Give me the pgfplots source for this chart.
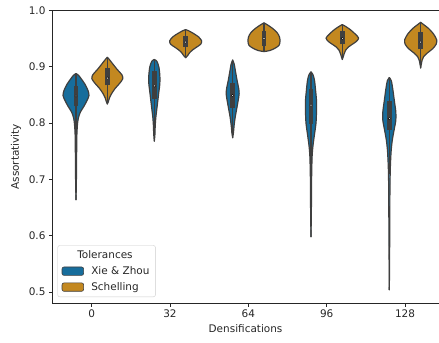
\documentclass[border=0pt]{standalone}
\usepackage{fontspec}
\setmainfont{DejaVu Sans}
\usepackage{pgfplots}
\usepackage{pgfplotstable}
\pgfplotsset{compat=1.18}
\definecolor{vblue}{HTML}{176D9C}
\definecolor{vorange}{HTML}{C38820}
\definecolor{edge}{HTML}{3F3F3F}
\newcommand{\pxu}{0.012766}
% violin outlines: y, half-width in pixels
\pgfplotstableread{
y w
0.888 0
0.885 2.5
0.878 5.5
0.869 9
0.858 12
0.849 13
0.840 11
0.830 8
0.820 4.5
0.810 2.5
0.800 1.6
0.780 0.9
0.740 0.6
0.700 0.4
0.664 0
}\vA
\pgfplotstableread{
y w
0.917 0
0.913 2
0.905 5.5
0.895 10
0.886 14.5
0.879 15.5
0.871 12.5
0.862 8
0.853 4.5
0.845 2.2
0.838 1
0.834 0
}\vB
\pgfplotstableread{
y w
0.913 0
0.910 2.5
0.900 4.5
0.885 5.5
0.870 5.5
0.855 4.5
0.840 3.5
0.825 2.5
0.810 1.5
0.795 0.9
0.780 0.6
0.768 0
}\vC
\pgfplotstableread{
y w
0.966 0
0.964 3
0.959 8
0.953 13
0.946 16
0.940 15
0.935 11
0.930 7
0.925 4
0.920 2
0.916 0
}\vD
\pgfplotstableread{
y w
0.912 0
0.905 1.5
0.890 3
0.875 4.5
0.862 6
0.852 6.5
0.840 5.5
0.825 4
0.810 2.5
0.795 1.4
0.783 0.8
0.774 0
}\vE
\pgfplotstableread{
y w
0.978 0
0.975 3
0.969 8
0.961 13
0.953 15.5
0.945 16
0.938 15
0.933 11
0.929 6
0.927 0
}\vF
\pgfplotstableread{
y w
0.891 0
0.886 2
0.876 3.5
0.860 4.5
0.840 5.5
0.820 5.5
0.800 5
0.780 3.5
0.760 2
0.740 1.1
0.700 0.6
0.650 0.4
0.598 0
}\vG
\pgfplotstableread{
y w
0.975 0
0.972 3
0.966 8
0.958 13
0.951 16.3
0.945 14
0.940 10
0.935 6
0.930 3.5
0.923 1.8
0.917 0.8
0.913 0
}\vH
\pgfplotstableread{
y w
0.881 0
0.875 2
0.860 3.5
0.840 5
0.820 6.5
0.805 6.5
0.790 5
0.770 3
0.750 1.8
0.720 1
0.680 0.6
0.600 0.4
0.504 0
}\vI
\pgfplotstableread{
y w
0.979 0
0.975 3
0.968 8
0.958 13
0.948 16
0.940 15.5
0.932 12
0.925 7
0.918 3
0.912 1.5
0.905 0.7
0.898 0
}\vJ
% #1 table, #2 centre, #3 colour, #4 lower whisker, #5 q1, #6 median, #7 q3, #8 upper whisker
\newcommand{\violin}[8]{%
\addplot[forget plot, fill=#3, draw=none, smooth, tension=0.45] table[x expr={#2+\thisrow{w}*\pxu}, y=y]{#1};
\addplot[forget plot, fill=#3, draw=none, smooth, tension=0.45] table[x expr={#2-\thisrow{w}*\pxu}, y=y]{#1};
\addplot[forget plot, draw=edge, line width=1.2bp, line cap=round, line join=round, smooth, tension=0.45] table[x expr={#2+\thisrow{w}*\pxu}, y=y]{#1};
\addplot[forget plot, draw=edge, line width=1.2bp, line cap=round, line join=round, smooth, tension=0.45] table[x expr={#2-\thisrow{w}*\pxu}, y=y]{#1};
\addplot[forget plot, draw=edge, line width=1.2bp] coordinates {(#2,#4) (#2,#8)};
\addplot[forget plot, draw=edge, line width=4.8bp] coordinates {(#2,#5) (#2,#7)};
\addplot[forget plot, only marks, mark=*, mark size=1.2bp, mark options={fill=white, draw=none}] coordinates {(#2,#6)};
}
\begin{document}
\begin{tikzpicture}
\begin{axis}[
  name=ax,
  scale only axis,
  width=386.1bp, height=292.5bp,
  xmin=-0.5, xmax=4.429,
  ymin=0.4805, ymax=1.0,
  axis x line*=box, axis y line*=left,
  axis line style={black!85, line width=0.9bp},
  xtick={0,1,2,3,4},
  xticklabels={0,32,64,96,128},
  ytick={0.5,0.6,0.7,0.8,0.9,1.0},
  xtick pos=left, ytick pos=left,
  tick align=outside,
  major tick length=3.5bp,
  tick style={black!85, line width=0.8bp},
  yticklabel style={/pgf/number format/.cd, fixed, fixed zerofill, precision=1},
  /pgf/number format/assume math mode=true,
  tick label style={font=\fontsize{10.5}{12.5}\selectfont, text=black!85},
  label style={font=\fontsize{10.5}{12.5}\selectfont, text=black!85},
  xlabel={Densifications},
  ylabel={Assortativity},
  ylabel style={xshift=0bp, yshift=1bp},
  legend cell align=left,
  legend image code/.code={\draw[#1] (0bp,-4.2bp) rectangle (21.6bp,4.2bp); \path (27bp,0bp);},
  legend style={at={(0.013,0.0205)}, anchor=south west,
    draw=black!20, rounded corners=2bp, fill=white,
    font=\fontsize{10.5}{12.5}\selectfont, text=black!85,
    row sep=2.5bp, inner xsep=4bp, inner ysep=3bp},
]
\violin{\vA}{-0.2}{vblue}{0.776}{0.830}{0.848}{0.866}{0.887}
\violin{\vB}{0.2}{vorange}{0.835}{0.867}{0.880}{0.897}{0.917}
\violin{\vC}{0.8}{vblue}{0.769}{0.842}{0.866}{0.892}{0.913}
\violin{\vD}{1.2}{vorange}{0.916}{0.936}{0.944}{0.954}{0.966}
\violin{\vE}{1.8}{vblue}{0.775}{0.827}{0.849}{0.872}{0.912}
\violin{\vF}{2.2}{vorange}{0.927}{0.937}{0.950}{0.963}{0.978}
\violin{\vG}{2.8}{vblue}{0.706}{0.799}{0.832}{0.861}{0.891}
\violin{\vH}{3.2}{vorange}{0.914}{0.940}{0.950}{0.963}{0.975}
\violin{\vI}{3.8}{vblue}{0.709}{0.787}{0.808}{0.839}{0.881}
\violin{\vJ}{4.2}{vorange}{0.898}{0.931}{0.944}{0.961}{0.979}
\addlegendimage{empty legend}
\addlegendentry{\hspace{-14bp}Tolerances}
\addlegendimage{fill=vblue, draw=edge, line width=0.6bp}
\addlegendentry{Xie \& Zhou}
\addlegendimage{fill=vorange, draw=edge, line width=0.6bp}
\addlegendentry{Schelling}
\end{axis}
\pgfresetboundingbox
\path[use as bounding box] ([xshift=-52.5bp,yshift=-40bp]ax.south west) rectangle ([xshift=0.4bp,yshift=10.5bp]ax.north east);
\end{tikzpicture}
\end{document}
